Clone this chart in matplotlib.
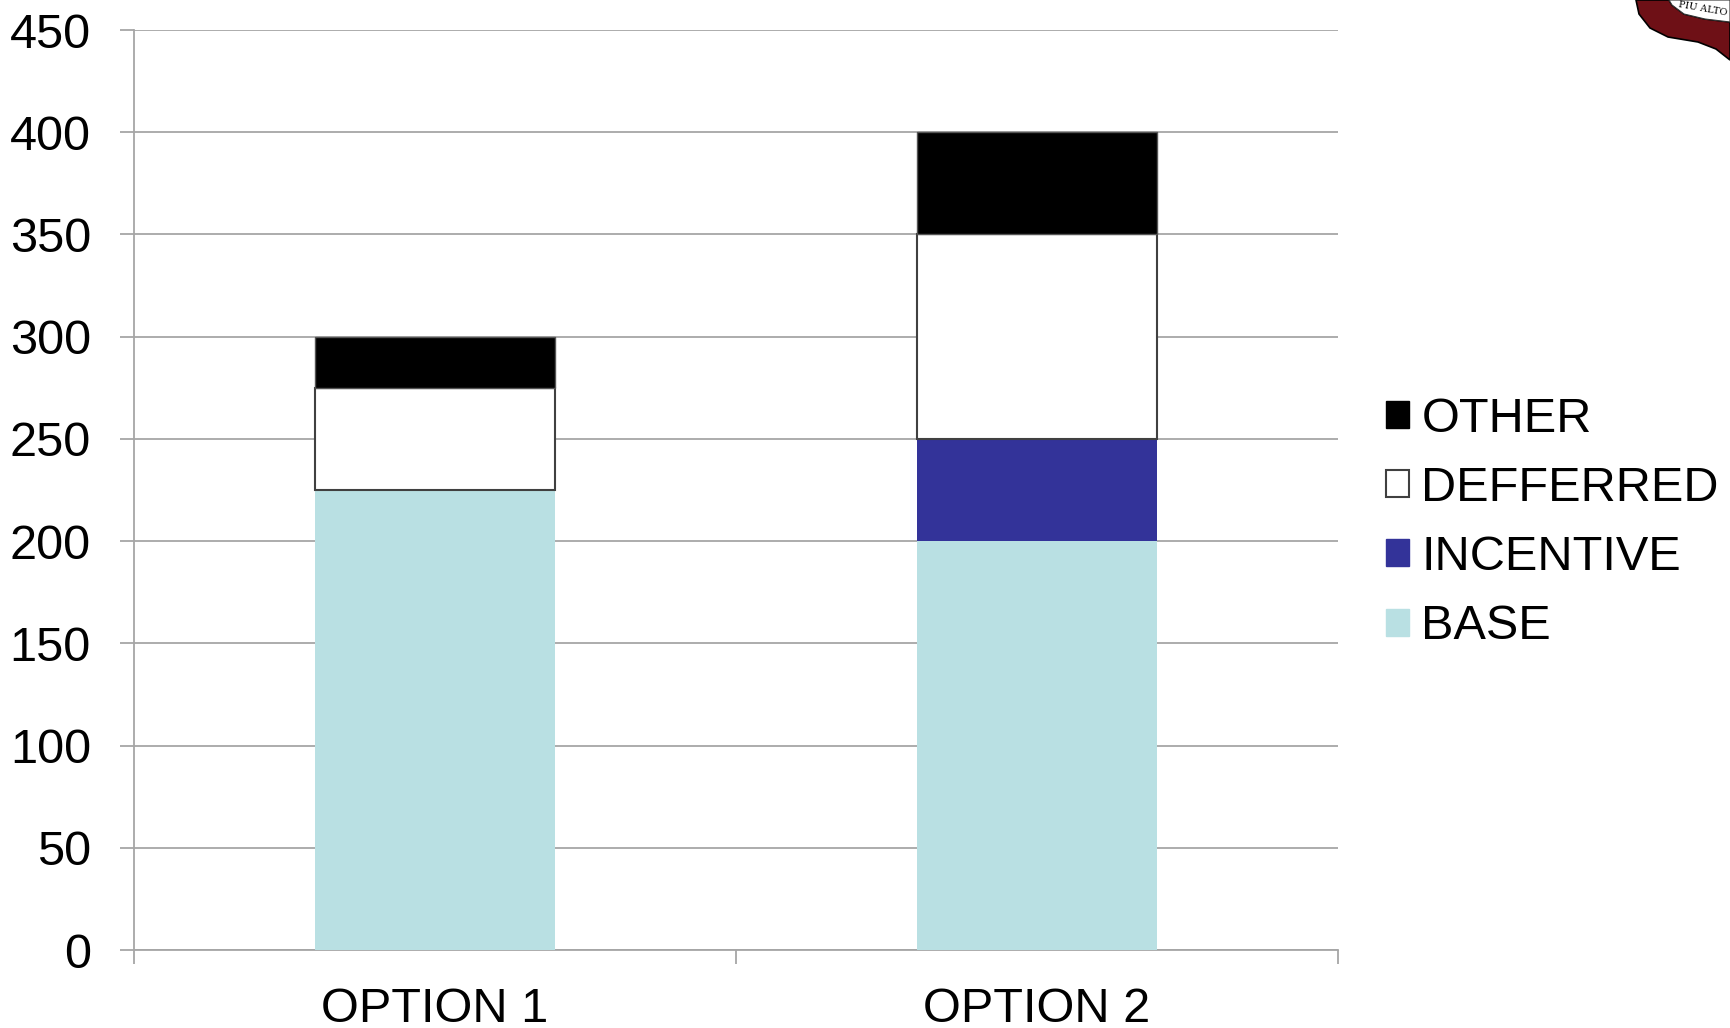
import matplotlib
matplotlib.use("Agg")
import matplotlib.pyplot as plt
from matplotlib.patches import Polygon, Patch

# data
options = ["OPTION 1", "OPTION 2"]
base = [225, 200]
incentive = [0, 50]
deferred = [50, 100]
other = [25, 50]
y_ticks = [0, 50, 100, 150, 200, 250, 300, 350, 400, 450]

plt.rcParams["font.family"] = ["Liberation Sans", "DejaVu Sans"]

W, H = 1730, 1028
fig = plt.figure(figsize=(W / 100, H / 100), dpi=100)
ax = fig.add_axes([134 / W, 1 - 950 / H, (1338 - 134) / W, (950 - 30) / H])

grid_c = "#A6A6A6"
x = range(len(options))
bw = 0.4

ax.bar(x, base, bw, color="#B9E0E3", zorder=3)
b2 = [b + i for b, i in zip(base, incentive)]
ax.bar(x, incentive, bw, bottom=base, color="#333399", zorder=3)
b3 = [b + d for b, d in zip(b2, deferred)]
ax.bar(x, deferred, bw, bottom=b2, color="white", edgecolor="#404040", linewidth=1.5, zorder=3)
ax.bar(x, other, bw, bottom=b3, color="black", edgecolor="#555555", linewidth=1.0, zorder=3)

ax.set_xlim(-0.5, len(options) - 0.5)
ax.set_ylim(0, 450)
ax.set_yticks(y_ticks)
ax.yaxis.grid(True, color=grid_c, linewidth=1.3, zorder=0)
ax.set_axisbelow(True)

ax.set_xticks(list(x))
ax.set_xticklabels(options)
ax.set_xticks([i - 0.5 for i in range(len(options) + 1)], minor=True)
ax.tick_params(axis="x", which="major", length=0, pad=27, labelsize=35)
ax.tick_params(axis="x", which="minor", length=10, width=1.3, color=grid_c, direction="out")
ax.tick_params(axis="y", length=10, width=1.3, color=grid_c, pad=21, labelsize=35)

for s in ["top", "right"]:
    ax.spines[s].set_visible(False)
for s in ["left", "bottom"]:
    ax.spines[s].set_color(grid_c)
    ax.spines[s].set_linewidth(1.3)

handles = [
    Patch(facecolor="black", edgecolor="black", label="OTHER"),
    Patch(facecolor="white", edgecolor="#404040", linewidth=1.5, label="DEFFERRED"),
    Patch(facecolor="#333399", edgecolor="#333399", label="INCENTIVE"),
    Patch(facecolor="#B9E0E3", edgecolor="#B9E0E3", label="BASE"),
]
fig.legend(handles=handles, loc="center left", bbox_to_anchor=(1386 / W, 1 - 523 / H),
           frameon=False, fontsize=35, handlelength=0.48, handleheight=0.48,
           handletextpad=0.25, labelspacing=0.5, borderpad=0, borderaxespad=0)

# corner of the logo, cut off at the top right
def px(pts):
    return [(a / W, 1 - b / H) for a, b in pts]

band = px([(1636, 0), (1639, 14), (1650, 28), (1668, 37), (1698, 42), (1716, 49),
           (1730, 60), (1730, 22), (1705, 19), (1684, 14), (1672, 5), (1669, 0)])
fig.patches.append(Polygon(band, closed=True, transform=fig.transFigure,
                           facecolor="#6E1016", edgecolor="black", linewidth=1.2))
ribbon = px([(1669, 0), (1672, 5), (1684, 14), (1705, 19), (1730, 22), (1730, 0)])
fig.patches.append(Polygon(ribbon, closed=True, transform=fig.transFigure,
                           facecolor="white", edgecolor="#333333", linewidth=0.8))
fig.text(1678 / W, 1 - 9 / H, "PIU ALTO", fontsize=7, family="DejaVu Serif",
         rotation=-10, va="center", ha="left")

fig.savefig("out.png", dpi=100, facecolor="white")
